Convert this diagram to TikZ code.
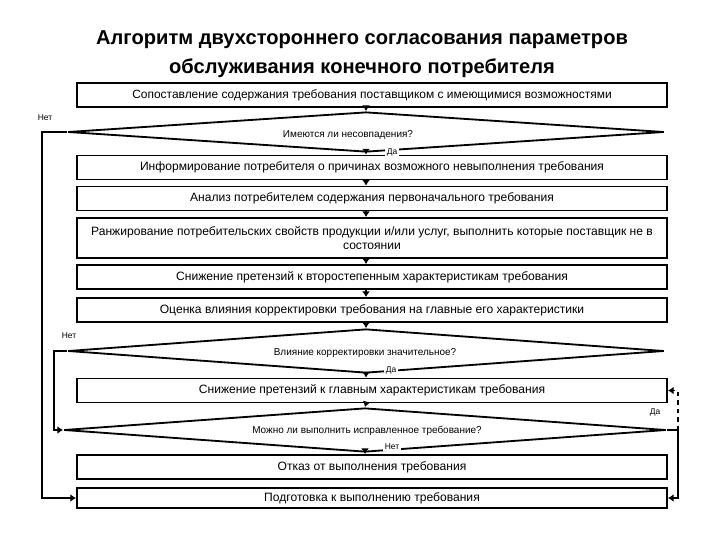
\documentclass[tikz,border=0pt]{standalone}
\usepackage{fontspec}
\setmainfont{Liberation Sans}
\usetikzlibrary{shapes.geometric,arrows.meta}
\begin{document}
\begin{tikzpicture}[x=0.025cm,y=-0.025cm,
    box/.style={draw,line width=1.3pt,minimum width=14.75cm,minimum height=0.6cm,inner sep=1pt,font=\fontsize{8.6}{10.5}\selectfont},
    dec/.style={draw,diamond,line width=1.3pt,minimum width=14.9cm,minimum height=1cm,inner sep=0pt},
    ask/.style={fill=white,inner sep=1pt,font=\fontsize{7.1}{8}\selectfont},
    tag/.style={fill=white,inner sep=1pt,font=\fontsize{6}{7}\selectfont},
    arr/.style={line width=1.3pt,-{Latex[length=4pt,width=5.5pt]}}]
  \useasboundingbox (0,0) rectangle (720,540);

  \node (T) at (362,54)[font=\bfseries\fontsize{14.3}{20.6}\selectfont,align=center]{Алгоритм двухстороннего согласования параметров\\обслуживания конечного потребителя};

  \node[box,font=\fontsize{8.5}{10}\selectfont] (b1) at (372,95){Сопоставление содержания требования поставщиком с имеющимися возможностями};
  \node[dec] (d1) at (366,132){};
  \node[ask] (q1) at (348,135){Имеются ли несовпадения?};
  \node[box] (b2) at (372,167.5){Информирование потребителя о причинах возможного невыполнения требования};
  \node[box] (b3) at (372,198.5){Анализ потребителем содержания первоначального требования};
  \node[box,minimum height=1cm,align=center] (b4) at (372,238){Ранжирование потребительских свойств продукции и/или услуг, выполнить которые поставщик не в\\состоянии};
  \node[box] (b5) at (372,277){Снижение претензий к второстепенным характеристикам требования};
  \node[box] (b6) at (372,310){Оценка влияния корректировки требования на главные его характеристики};
  \node[dec,minimum height=1.1cm] (d2) at (366,351){};
  \node[ask] (q2) at (365,353){Влияние корректировки значительное?};
  \node[box] (b7) at (372,390.5){Снижение претензий к главным характеристикам требования};
  \node[dec,minimum width=15.05cm,minimum height=1.1cm] (d3) at (365,430){};
  \node[ask] (q3) at (367,431){Можно ли выполнить исправленное требование?};
  \node[box] (b8) at (372,467){Отказ от выполнения требования};
  \node[box,minimum height=0.5cm] (b9) at (372,498){Подготовка к выполнению требования};

  % labels of the branches
  \node[tag] (n1) at (45,118){Нет};
  \node[tag] (y1) at (392,152){Да};
  \node[tag] (n2) at (69,336){Нет};
  \node[tag] (y2) at (391,370){Да};
  \node[tag] (y3) at (655,412){Да};
  \node[tag] (n3) at (392,447){Нет};

  \coordinate (l1) at (42,132);
  \coordinate (l2) at (54,351);
  \coordinate (r3) at (678,430);

  \draw[arr] (d1.north |- b1.south) -- (d1.north);
  \draw[arr] (d1.south) -- (d1.south |- b2.north);
  \draw[arr] (d1.south |- b2.south) -- (d1.south |- b3.north);
  \draw[arr] (d1.south |- b3.south) -- (d1.south |- b4.north);
  \draw[arr] (d1.south |- b4.south) -- (d1.south |- b5.north);
  \draw[arr] (d1.south |- b5.south) -- (d1.south |- b6.north);
  \draw[arr] (d2.north |- b6.south) -- (d2.north);
  \draw[arr] (d2.south) -- (d2.south |- b7.north);
  \draw[arr] (d2.south |- b7.south) -- (d3.north);
  \draw[arr] (d3.south) -- (d3.south |- b8.north);

  \draw[arr] (d1.west) -- (l1) |- (b9.west);
  \draw[arr] (d2.west) -- (l2) |- (d3.west);
  \draw[line width=1.3pt] (d3.east) -- (r3);
  \draw[arr,dashed] (r3) |- (b7.east);
  \draw[arr] (r3) |- (b9.east);
\end{tikzpicture}
\end{document}
